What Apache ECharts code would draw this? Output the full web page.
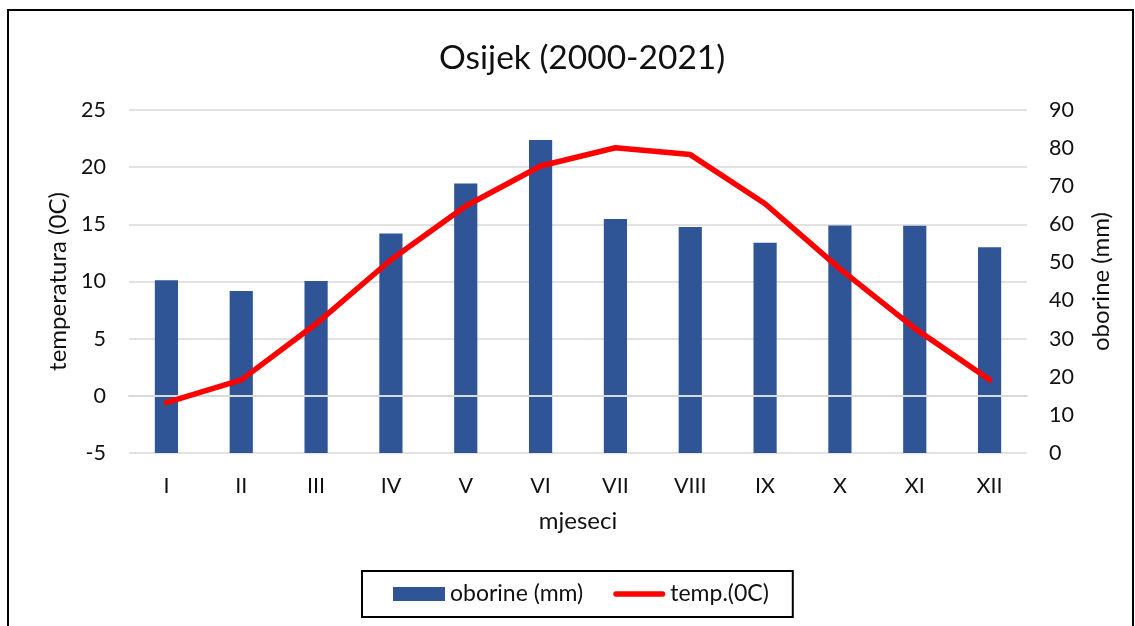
<!DOCTYPE html>
<html lang="hr">
<head>
    <meta charset="UTF-8">
    <title>Osijek (2000-2021)</title>
    <script src="https://cdn.jsdelivr.net/npm/echarts@6/dist/echarts.min.js"></script>
    <style>
        *{
            margin: 0;
            padding: 0;
        }
        html,body{
            width: 100%;
            height: 100%;
            overflow: hidden;
            background: #fff;
        }
        .container{
            width: 1135px;
            height: 626px;
        }
    </style>
</head>
<body>
<div class="container"></div>
<script>
    // mjeseci
    const months = ['I', 'II', 'III', 'IV', 'V', 'VI', 'VII', 'VIII', 'IX', 'X', 'XI', 'XII'];
    // oborine (mm), desna os
    const precipitation = [45.3, 42.5, 45.1, 57.6, 70.7, 82.1, 61.4, 59.3, 55.2, 59.7, 59.6, 54.0];
    // temp.(0C), lijeva os
    const temperature = [-0.6, 1.4, 6.3, 11.9, 16.6, 20.1, 21.7, 21.1, 16.8, 11.1, 5.9, 1.4];

    window.onload = function () {
        let container = document.querySelector('.container');
        let mycharts = echarts.init(container);
        const font = 'Lato, "Noto Sans", sans-serif';
        const txt = '#111';

        let options = {
            backgroundColor: '#fff',
            textStyle: { fontFamily: font, color: txt },
            graphic: [{
                type: 'rect',
                shape: { x: 8, y: 10, width: 1125, height: 700 },
                style: { fill: 'none', stroke: '#000', lineWidth: 2 },
                silent: true
            }],
            title: {
                text: 'Osijek (2000-2021)',
                left: 434,
                top: 36,
                textStyle: { fontFamily: font, fontSize: 33.5, fontWeight: 'normal', color: txt }
            },
            grid: {
                left: 129,
                right: 108,
                top: 110,
                bottom: 173
            },
            xAxis: [{
                type: 'category',
                data: months,
                name: 'mjeseci',
                nameLocation: 'middle',
                nameGap: 56,
                nameTextStyle: { fontSize: 24, color: txt },
                axisLine: { show: false },
                axisTick: { show: false },
                axisLabel: { fontSize: 21.5, color: txt, margin: 22 }
            }, {
                type: 'category',
                data: months,
                position: 'bottom',
                z: 5,
                axisLine: {
                    show: true,
                    onZero: true,
                    onZeroAxisIndex: 0,
                    lineStyle: { color: '#d9d9d9', width: 2 }
                },
                axisTick: { show: false },
                axisLabel: { show: false }
            }],
            yAxis: [{
                type: 'value',
                min: -5,
                max: 25,
                interval: 5,
                name: 'temperatura (0C)',
                nameLocation: 'middle',
                nameGap: 52,
                nameTextStyle: { fontSize: 24, color: txt },
                axisLine: { show: false },
                axisTick: { show: false },
                axisLabel: { fontSize: 21.5, color: txt, margin: 23 },
                splitLine: { lineStyle: { color: '#d9d9d9', width: 1.5 } }
            }, {
                type: 'value',
                min: 0,
                max: 90,
                interval: 10,
                name: 'oborine (mm)',
                nameLocation: 'middle',
                nameGap: 62,
                nameTextStyle: { fontSize: 24, color: txt },
                axisLine: { show: false },
                axisTick: { show: false },
                axisLabel: { fontSize: 21.5, color: txt, margin: 22 },
                splitLine: { show: false }
            }],
            legend: {
                left: 362,
                top: 571,
                padding: [11.5, 24, 11.5, 31],
                itemGap: 30,
                itemWidth: 52,
                itemHeight: 14,
                borderColor: '#000',
                borderWidth: 2,
                textStyle: { fontFamily: font, fontSize: 23, color: txt },
                data: [
                    { name: 'oborine (mm)', icon: 'rect' },
                    { name: 'temp.(0C)', icon: 'path://M3,0 L53,0 A3,3 0 0 1 53,6 L3,6 A3,3 0 0 1 3,0 Z' }
                ]
            },
            series: [{
                name: 'oborine (mm)',
                type: 'bar',
                yAxisIndex: 1,
                data: precipitation,
                barWidth: '31%',
                z: 2,
                itemStyle: { color: '#2f5597' }
            }, {
                name: 'temp.(0C)',
                type: 'line',
                yAxisIndex: 0,
                data: temperature,
                symbol: 'none',
                z: 10,
                lineStyle: { color: '#ff0000', width: 5.5, cap: 'round', join: 'round' },
                itemStyle: { color: '#ff0000' }
            }]
        };

        mycharts.setOption(options);
    }
</script>
</body>
</html>
